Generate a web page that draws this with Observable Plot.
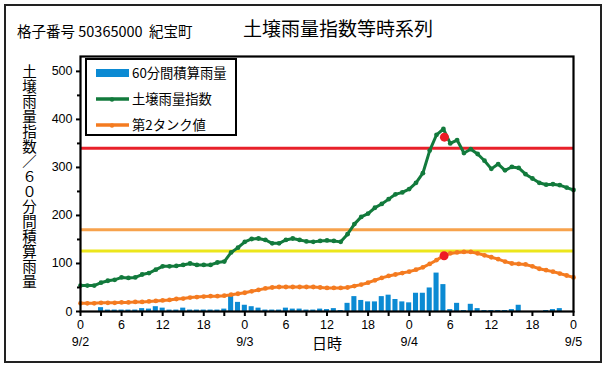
<!DOCTYPE html>
<html><head><meta charset="utf-8">
<script src="https://cdn.jsdelivr.net/npm/d3@7"></script>
<script src="https://cdn.jsdelivr.net/npm/@observablehq/plot@0.6"></script>
<style>
body{margin:0;background:#fff;font-family:"Noto Sans CJK JP",sans-serif;}
#wrap{position:relative;width:606px;height:365px;overflow:hidden;}
#border{position:absolute;left:4px;top:4px;width:594px;height:355px;border:2px solid #222;}
#t1{position:absolute;left:17px;top:20px;font-size:14.5px;color:#000;white-space:nowrap;}
#t2{position:absolute;left:243px;top:14px;font-size:19px;color:#000;white-space:nowrap;}
#ylab{position:absolute;left:19px;top:64px;writing-mode:vertical-rl;text-orientation:upright;font-size:14.5px;letter-spacing:0.5px;line-height:20px;color:#000;white-space:nowrap;}
#legend{position:absolute;left:85px;top:58px;width:148px;height:74px;border:2px solid #000;background:#fff;font-size:13.3px;}
.li{position:absolute;left:7px;display:flex;align-items:center;white-space:nowrap;}
.li svg{margin-right:2px;}
#chart{position:absolute;left:0;top:0;}
</style></head>
<body><div id="wrap"><div id="chart"></div><div id="border"></div>
<div id="t1">格子番号 50365000&nbsp; 紀宝町</div>
<div id="t2">土壌雨量指数等時系列</div>
<div id="ylab"></div>
<div id="legend"></div>
</div>
<script>
// ---- data (hours since 9/2 00:00) ----
const hours = d3.range(0, 73);
const rain60 = [0,0,0,8,3,3,3,3,3,6,5,10,7,3,3,7,3,3,3,3,3,5,32,19,13,10,7,3,3,3,7,5,5,3,3,5,4,6,2,17,31,23,20,20,31,34,25,20,18,38,38,49,80,56,4,17,2,15,6,2,2,2,2,4,13,0,0,0,2,4,6,0,0];
const soilIndex = [54,54,54,60,64,66,71,70,71,77,80,87,94,94,95,97,100,97,97,97,102,104,123,133,145,151,152,149,142,142,149,152,149,146,145,147,148,147,145,161,182,197,204,216,224,234,244,248,255,268,288,335,368,380,350,357,330,338,328,314,297,307,294,301,299,286,277,268,264,265,263,258,253];
const tank2 = [17,17,17,18,18,18,19,19,20,20,21,22,23,24,26,27,29,30,31,32,32,33,35,37,39,42,45,48,50,51,51,51,51,51,51,50,49,49,49,50,53,56,60,65,70,74,77,80,83,87,92,99,107,116,121,123,124,124,121,117,113,109,104,100,99,98,94,89,86,83,79,75,71];
const thresholds = [{v:340,c:"#e8202a"},{v:170,c:"#f7a24c"},{v:126,c:"#ece61c"}];
const peakMarks = [{h:53.15,v:363},{h:53.1,v:116}];
const yTicks = [0,100,200,300,400,500];
const yMinor = [50,150,250,350,450];
const xTicks = d3.range(0, 73, 3);
const dateLabels = [{h:0,t:"9/2"},{h:24,t:"9/3"},{h:48,t:"9/4"},{h:72,t:"9/5"}];
const xTitle = [{h:36,t:"日時"}];
const yLabelText = "土壌雨量指数／６０分間積算雨量";
const legendItems = [{name:"60分間積算雨量",type:"bar",c:"#0b8ad3"},{name:"土壌雨量指数",type:"line",c:"#127a3c"},{name:"第2タンク値",type:"line",c:"#f47b20"}];

const rainData = hours.map((h,i)=>({h, v: rain60[i]}));
const soilData = hours.map((h,i)=>({h, v: soilIndex[i]}));
const tankData = hours.map((h,i)=>({h, v: tank2[i]}));

const GREEN="#127a3c", ORANGE="#f47b20", BLUE="#0b8ad3";
const chart = Plot.plot({
  width: 606, height: 365,
  marginLeft: 80, marginRight: 33, marginTop: 56, marginBottom: 54,
  x: {domain:[0,72]},
  y: {domain:[0,531]},
  style: {fontFamily:"'Liberation Sans', Arial, sans-serif", fontSize:"12.5px", color:"#000", background:"transparent"},
  marks: [
    Plot.rectY(rainData, {x1: d=>d.h-0.37, x2: d=>d.h+0.37, y: "v", fill: BLUE}),
    Plot.ruleY(thresholds, {y:"v", stroke:"c", strokeWidth:3}),
    Plot.line(tankData, {x:"h", y:"v", stroke:ORANGE, strokeWidth:3}),
    Plot.dot(tankData, {x:"h", y:"v", fill:ORANGE, r:2.4}),
    Plot.line(soilData, {x:"h", y:"v", stroke:GREEN, strokeWidth:3}),
    Plot.dot(soilData, {x:"h", y:"v", fill:GREEN, r:2.4}),
    Plot.dot(peakMarks, {x:"h", y:"v", fill:"#ee1c25", r:4.5}),
    Plot.axisY({ticks: yTicks, tickSize:4, tickPadding:4, tickFormat: d=>String(d), fontSize:12.5, label:null, strokeWidth:2}),
    Plot.axisY({ticks: yMinor, tickSize:3, tickFormat: ()=>"", label:null, strokeWidth:2}),
    Plot.axisX({ticks: xTicks, tickSize:5, tickPadding:4, tickFormat: d=> d%6===0 ? String(d%24) : "", fontSize:12.5, label:null, strokeWidth:2}),
    Plot.text(dateLabels, {x:"h", text:"t", frameAnchor:"bottom", dy:34, fontSize:12.5}),
    Plot.text(xTitle, {x:"h", text:"t", frameAnchor:"bottom", dy:37, fontSize:15, fontFamily:"'Noto Sans CJK JP', sans-serif"}),
    Plot.frame({stroke:"#000", strokeWidth:2.2})
  ]
});
document.getElementById("chart").appendChild(chart);

document.getElementById("ylab").textContent = yLabelText;

const lg = document.getElementById("legend");
legendItems.forEach((it,i)=>{
  const row=document.createElement("div");row.className="li";row.style.top=(3+i*26)+"px";
  let sw;
  if(it.type==="bar") sw=`<svg width="36" height="14"><rect x="2" y="3" width="33" height="8" fill="${it.c}"/></svg>`;
  else sw=`<svg width="36" height="14"><line x1="2" y1="7" x2="35" y2="7" stroke="${it.c}" stroke-width="3.5"/><circle cx="18" cy="7.5" r="2.2" fill="${it.c}"/></svg>`;
  row.innerHTML=sw+`<span>${it.name}</span>`;
  lg.appendChild(row);
});
</script></body></html>
